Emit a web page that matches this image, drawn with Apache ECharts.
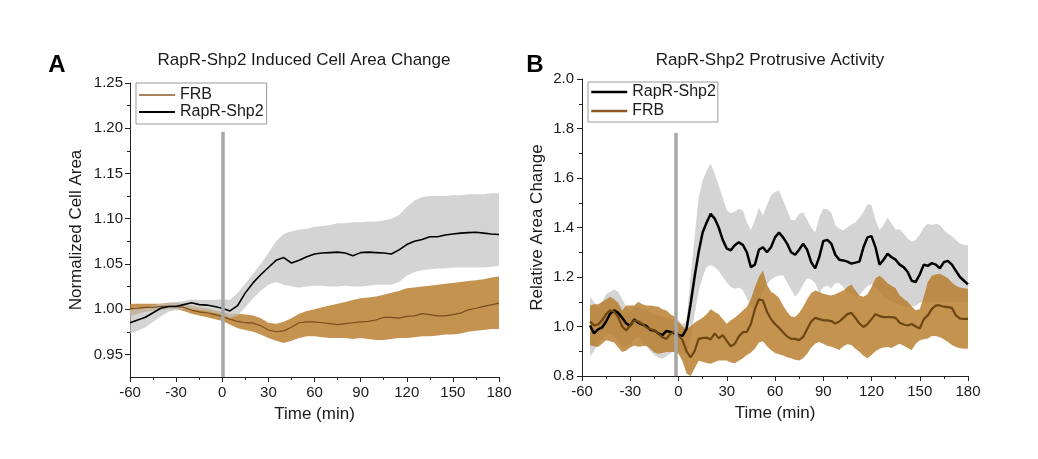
<!DOCTYPE html>
<html>
<head>
<meta charset="utf-8">
<script src="https://cdn.jsdelivr.net/npm/echarts@6/dist/echarts.min.js"></script>
<style>
  html, body { margin: 0; padding: 0; background: #fff; }
  #main { width: 1038px; height: 459px; }
</style>
</head>
<body>
<div id="main"></div>
<script>
// ---- panel A: normalized cell area ----
const timeA = [-60, -55, -50, -45, -40, -35, -30, -25, -20, -15, -10, -5,
  0, 5, 10, 15, 20, 25, 30, 35, 40, 45, 50, 55, 60, 65, 70, 75, 80, 85,
  90, 95, 100, 105, 110, 115, 120, 125, 130, 135, 140, 145, 150, 155, 160, 165, 170, 175, 180];

const rapMeanA = [0.985, 0.988, 0.991, 0.996, 1.001, 1.003,
  1.003, 1.005, 1.007, 1.005, 1.0045, 1.003,
  1.001, 0.998, 1.004, 1.018, 1.029, 1.038,
  1.046, 1.054, 1.057, 1.051, 1.054, 1.058,
  1.061, 1.062, 1.0625, 1.063, 1.062, 1.059,
  1.0625, 1.063, 1.0625, 1.062, 1.061, 1.0655,
  1.0714, 1.075, 1.077, 1.080, 1.080, 1.082,
  1.083, 1.084, 1.0846, 1.085, 1.084, 1.083,
  1.0825];
const rapHighA = [0.999, 1.000, 1.001, 1.004, 1.006, 1.007,
  1.008, 1.009, 1.011, 1.010, 1.010, 1.010,
  1.011, 1.010, 1.018, 1.028, 1.039, 1.050,
  1.062, 1.075, 1.083, 1.086, 1.088, 1.089,
  1.091, 1.092, 1.093, 1.095, 1.095, 1.096,
  1.096, 1.097, 1.097, 1.098, 1.100, 1.104,
  1.113, 1.120, 1.124, 1.125, 1.125, 1.125,
  1.126, 1.126, 1.127, 1.127, 1.127, 1.128,
  1.128];
const rapLowA = [0.973, 0.976, 0.980, 0.986, 0.992, 0.997,
  0.999, 1.000, 1.000, 0.999, 0.998, 0.996,
  0.994, 0.990, 0.993, 1.002, 1.012, 1.020,
  1.027, 1.030, 1.027, 1.025, 1.024, 1.025,
  1.026, 1.026, 1.025, 1.025, 1.026, 1.025,
  1.025, 1.026, 1.027, 1.027, 1.027, 1.030,
  1.037, 1.041, 1.043, 1.044, 1.045, 1.045,
  1.046, 1.046, 1.046, 1.046, 1.046, 1.047,
  1.048];

const frbMeanA = [1.0005, 1.001, 1.002, 1.002, 1.003, 1.003,
  1.003, 1.002, 0.999, 0.997, 0.996, 0.994,
  0.992, 0.989, 0.9864, 0.985, 0.9845, 0.9816,
  0.977, 0.975, 0.976, 0.980, 0.985, 0.986,
  0.986, 0.985, 0.984, 0.983, 0.984, 0.985,
  0.986, 0.9864, 0.988, 0.991, 0.991, 0.990,
  0.992, 0.9926, 0.995, 0.994, 0.9926, 0.9926,
  0.994, 0.9956, 0.9993, 1.001, 1.003, 1.0048,
  1.0066];
const frbHighA = [1.006, 1.006, 1.006, 1.006, 1.006, 1.007,
  1.007, 1.006, 1.004, 1.002, 1.001, 0.999,
  0.997, 0.995, 0.995, 0.994, 0.993, 0.990,
  0.985, 0.984, 0.986, 0.990, 0.995, 0.998,
  1.000, 1.002, 1.004, 1.006, 1.008, 1.010,
  1.012, 1.013, 1.014, 1.016, 1.018, 1.020,
  1.023, 1.024, 1.025, 1.026, 1.027, 1.028,
  1.029, 1.030, 1.031, 1.032, 1.033, 1.035,
  1.036];
const frbLowA = [0.992, 0.995, 0.997, 0.998, 0.999, 1.000,
  1.000, 0.998, 0.995, 0.993, 0.991, 0.989,
  0.987, 0.983, 0.979, 0.977, 0.975, 0.972,
  0.968, 0.965, 0.9625, 0.965, 0.968, 0.970,
  0.970, 0.969, 0.968, 0.968, 0.968, 0.967,
  0.968, 0.967, 0.966, 0.966, 0.967, 0.968,
  0.968, 0.969, 0.970, 0.970, 0.971, 0.972,
  0.972, 0.973, 0.975, 0.976, 0.977, 0.978,
  0.978];

// ---- panel B: protrusive activity ----
const timeB = [-55, -52.5, -50, -47.5, -45, -42.5, -40, -37.5, -35, -32.5,
  -30, -27.5, -25, -22.5, -20, -17.5, -15, -12.5, -10, -7.5,
  -5, -2.5, 0, 2.5, 5, 7.5, 10, 12.5, 15, 17.5,
  20, 22.5, 25, 27.5, 30, 32.5, 35, 37.5, 40, 42.5,
  45, 47.5, 50, 52.5, 55, 57.5, 60, 62.5, 65, 67.5,
  70, 72.5, 75, 77.5, 80, 82.5, 85, 87.5, 90, 92.5,
  95, 97.5, 100, 102.5, 105, 107.5, 110, 112.5, 115, 117.5,
  120, 122.5, 125, 127.5, 130, 132.5, 135, 137.5, 140, 142.5,
  145, 147.5, 150, 152.5, 155, 157.5, 160, 162.5, 165, 167.5,
  170, 172.5, 175, 177.5, 180];

const rapMeanB = [1.004, 0.972, 0.988, 0.996, 1.020, 1.052, 1.065, 1.055, 1.035, 1.012,
  1.004, 1.028, 1.015, 1.008, 1.002, 0.986, 0.984, 0.972, 0.965, 0.982,
  0.978, 0.972, 0.966, 0.962, 0.990, 1.090, 1.200, 1.300, 1.380, 1.420,
  1.455, 1.436, 1.400, 1.350, 1.315, 1.308, 1.328, 1.340, 1.330, 1.300,
  1.240, 1.250, 1.310, 1.320, 1.300, 1.320, 1.360, 1.380, 1.360, 1.335,
  1.300, 1.290, 1.310, 1.335, 1.310, 1.260, 1.235, 1.280, 1.345, 1.350,
  1.335, 1.290, 1.270, 1.267, 1.262, 1.254, 1.258, 1.262, 1.320, 1.360,
  1.365, 1.320, 1.250, 1.270, 1.294, 1.280, 1.270, 1.250, 1.240, 1.220,
  1.185, 1.180, 1.210, 1.250, 1.245, 1.256, 1.250, 1.235, 1.260, 1.265,
  1.250, 1.225, 1.200, 1.185, 1.170];
const rapHighB = [1.12, 1.10, 1.07, 1.10, 1.13, 1.14, 1.15, 1.14, 1.11, 1.08,
  1.06, 1.08, 1.08, 1.07, 1.07, 1.06, 1.05, 1.045, 1.04, 1.035,
  1.03, 1.025, 1.02, 1.01, 1.02, 1.20, 1.36, 1.52, 1.59, 1.63,
  1.658, 1.617, 1.57, 1.52, 1.47, 1.458, 1.465, 1.476, 1.47, 1.42,
  1.39, 1.43, 1.48, 1.45, 1.49, 1.53, 1.543, 1.55, 1.51, 1.47,
  1.43, 1.43, 1.455, 1.462, 1.43, 1.40, 1.38, 1.44, 1.476, 1.475,
  1.46, 1.41, 1.395, 1.389, 1.40, 1.412, 1.42, 1.44, 1.462, 1.495,
  1.49, 1.43, 1.39, 1.41, 1.44, 1.415, 1.392, 1.393, 1.375, 1.355,
  1.343, 1.35, 1.372, 1.40, 1.415, 1.41, 1.415, 1.41, 1.39, 1.375,
  1.365, 1.35, 1.335, 1.33, 1.328];
const rapLowB = [0.88, 0.90, 0.93, 0.95, 0.97, 0.97, 0.96, 0.94, 0.92, 0.92,
  0.93, 0.95, 0.96, 0.94, 0.92, 0.90, 0.885, 0.875, 0.87, 0.88,
  0.89, 0.90, 0.90, 0.89, 0.89, 0.945, 1.05, 1.14, 1.20, 1.24,
  1.247, 1.24, 1.225, 1.20, 1.178, 1.16, 1.153, 1.158, 1.146, 1.115,
  1.08, 1.07, 1.10, 1.14, 1.17, 1.19, 1.20, 1.205, 1.207, 1.18,
  1.15, 1.12, 1.14, 1.17, 1.195, 1.19, 1.175, 1.135, 1.16, 1.165,
  1.155, 1.175, 1.175, 1.16, 1.138, 1.133, 1.125, 1.125, 1.146, 1.164,
  1.172, 1.16, 1.14, 1.12, 1.11, 1.10, 1.095, 1.09, 1.085, 1.08,
  1.078, 1.085, 1.095, 1.10, 1.10, 1.10, 1.10, 1.10, 1.10, 1.10,
  1.10, 1.10, 1.10, 1.10, 1.10];

const frbMeanB = [1.020, 1.004, 1.008, 1.025, 1.050, 1.065, 1.060, 1.038, 1.000, 0.984,
  1.005, 1.025, 1.020, 1.010, 0.996, 0.990, 0.985, 0.970, 0.957, 0.950,
  0.970, 0.980, 0.964, 0.945, 0.900, 0.875, 0.900, 0.950, 0.953, 0.955,
  0.948, 0.972, 0.952, 0.965, 0.942, 0.920, 0.930, 0.960, 0.977, 0.978,
  1.010, 1.070, 1.110, 1.105, 1.060, 1.030, 1.010, 0.995, 0.977, 0.960,
  0.950, 0.950, 0.945, 0.958, 0.990, 1.020, 1.035, 1.030, 1.025, 1.025,
  1.022, 1.012, 1.020, 1.035, 1.050, 1.055, 1.035, 1.012, 0.998, 1.010,
  1.030, 1.050, 1.042, 1.038, 1.038, 1.038, 1.035, 1.015, 1.008, 1.004,
  1.010, 1.000, 0.992, 1.030, 1.045, 1.070, 1.085, 1.085, 1.080, 1.078,
  1.075, 1.045, 1.032, 1.031, 1.031];
const frbHighB = [1.085, 1.090, 1.090, 1.100, 1.110, 1.120, 1.110, 1.095, 1.065, 1.085,
  1.085, 1.085, 1.100, 1.090, 1.085, 1.085, 1.082, 1.080, 1.070, 1.065,
  1.050, 1.040, 1.020, 1.000, 0.990, 1.000, 1.015, 1.025, 1.035, 1.050,
  1.070, 1.060, 1.050, 1.030, 1.011, 1.025, 1.035, 1.050, 1.065, 1.080,
  1.110, 1.160, 1.200, 1.225, 1.170, 1.140, 1.130, 1.115, 1.085, 1.060,
  1.040, 1.038, 1.055, 1.080, 1.110, 1.135, 1.145, 1.140, 1.132, 1.128,
  1.125, 1.130, 1.138, 1.145, 1.160, 1.170, 1.145, 1.125, 1.120, 1.130,
  1.160, 1.195, 1.205, 1.192, 1.175, 1.165, 1.155, 1.125, 1.112, 1.100,
  1.080, 1.066, 1.070, 1.120, 1.180, 1.205, 1.210, 1.213, 1.205, 1.195,
  1.178, 1.165, 1.158, 1.155, 1.153];
const frbLowB = [0.923, 0.920, 0.917, 0.930, 0.944, 0.940, 0.935, 0.915, 0.897, 0.903,
  0.915, 0.923, 0.918, 0.920, 0.922, 0.910, 0.895, 0.890, 0.893, 0.897,
  0.897, 0.897, 0.890, 0.860, 0.810, 0.790, 0.830, 0.862, 0.858, 0.853,
  0.850, 0.857, 0.863, 0.863, 0.863, 0.855, 0.852, 0.862, 0.872, 0.885,
  0.895, 0.910, 0.935, 0.940, 0.920, 0.905, 0.893, 0.888, 0.883, 0.876,
  0.872, 0.866, 0.863, 0.872, 0.890, 0.915, 0.930, 0.937, 0.930, 0.922,
  0.918, 0.912, 0.905, 0.920, 0.928, 0.925, 0.910, 0.898, 0.882, 0.872,
  0.885, 0.900, 0.910, 0.915, 0.917, 0.913, 0.922, 0.930, 0.922, 0.913,
  0.905, 0.930, 0.944, 0.948, 0.952, 0.962, 0.962, 0.957, 0.948, 0.937,
  0.925, 0.917, 0.912, 0.910, 0.910];

// ticks
const yLabelsA = [0.95, 1.00, 1.05, 1.10, 1.15, 1.20, 1.25];
const yMinorA = [0.975, 1.025, 1.075, 1.125, 1.175, 1.225];

// stimulus (rapamycin) marker
const stimA = 0, stimTopA = 1.196;
const stimB = -1.5, stimTopB = 1.782;

const FONT = 'Liberation Sans, Arial, sans-serif';
const INK = '#1a1a1a';
const BROWN_BAND = 'rgba(180,120,35,0.8)';
const BROWN_LINE = '#6e4614';

const chart = echarts.init(document.getElementById('main'));

const pairs = (t, v) => t.map((x, i) => [x, v[i]]);

// shaded error band: one polygon through the upper edge and back along the lower edge
function band(name, t, lo, hi, color, gi) {
  return {
    name: name, type: 'custom', xAxisIndex: gi, yAxisIndex: gi === 0 ? 0 : 2,
    silent: true,
    data: t.map((x, i) => [x, lo[i], hi[i]]),
    encode: { x: 0, y: [1, 2] },
    renderItem: function (params, api) {
      if (params.dataIndexInside !== 0) return null;
      const n = params.dataInsideLength;
      const top = [], bottom = [];
      for (let i = 0; i < n; i++) {
        top.push(api.coord([api.value(0, i), api.value(2, i)]));
        bottom.push(api.coord([api.value(0, i), api.value(1, i)]));
      }
      const pts = top.concat(bottom.reverse());
      const cs = params.coordSys;
      return {
        type: 'polygon',
        shape: { points: echarts.graphic.clipPointsByRect(pts,
          { x: cs.x, y: cs.y, width: cs.width, height: cs.height }) },
        style: { fill: color, stroke: null }
      };
    }
  };
}

function meanLine(name, t, v, color, width, gi, stim) {
  const s = { name: name, type: 'line', xAxisIndex: gi, yAxisIndex: gi === 0 ? 0 : 2,
    symbol: 'none', silent: true, data: pairs(t, v),
    lineStyle: { color: color, width: width }, itemStyle: { color: color } };
  if (stim) {
    s.markLine = { silent: true, symbol: ['none', 'none'], label: { show: false },
      lineStyle: { color: '#a7a7a7', width: 3.5, type: 'solid', opacity: 1 },
      data: [[{ coord: [stim[0], stim[1]] }, { coord: [stim[0], stim[2]] }]] };
  }
  return s;
}

function xAxisCfg(gi) {
  return {
    gridIndex: gi, type: 'value', min: -60, max: 180, interval: 30,
    name: 'Time (min)', nameLocation: 'middle', nameGap: 29,
    nameTextStyle: { fontSize: 17, color: INK, fontFamily: FONT },
    axisLine: { show: true, onZero: false, lineStyle: { color: '#222', width: 1 } },
    axisTick: { show: true, length: 5, lineStyle: { color: '#222' } },
    minorTick: { show: true, splitNumber: 2, length: 3, lineStyle: { color: '#222' } },
    axisLabel: { fontSize: 15, color: INK, fontFamily: FONT, margin: 8 },
    splitLine: { show: false }
  };
}

function legendCfg(left, top, padding, gap, items) {
  return {
    orient: 'vertical', left: left, top: top, padding: padding, itemGap: gap,
    itemWidth: 36, itemHeight: 14, borderColor: '#9a9a9a', borderWidth: 1,
    textStyle: { fontSize: 16, color: INK, fontFamily: FONT },
    selectedMode: false,
    data: items.map(it => ({ name: it[0], itemStyle: { opacity: 0 },
      lineStyle: { color: it[1], width: it[2] } }))
  };
}

const option = {
  animation: false,
  textStyle: { fontFamily: FONT },
  grid: [
    { left: 130, top: 83, width: 369, height: 294, containLabel: false },
    { left: 582, top: 79, width: 386, height: 297, containLabel: false }
  ],
  xAxis: [xAxisCfg(0), xAxisCfg(1)],
  yAxis: [
    { gridIndex: 0, type: 'value', min: 0.925, max: 1.25,
      name: 'Normalized Cell Area', nameLocation: 'middle', nameGap: 45,
      nameTextStyle: { fontSize: 17, color: INK, fontFamily: FONT },
      axisLine: { show: true, onZero: false, lineStyle: { color: '#222', width: 1 } },
      axisTick: { show: true, length: 5, customValues: yLabelsA, lineStyle: { color: '#222' } },
      axisLabel: { fontSize: 15, color: INK, fontFamily: FONT, margin: 7,
        customValues: yLabelsA, formatter: v => v.toFixed(2) },
      splitLine: { show: false } },
    { gridIndex: 0, type: 'value', min: 0.925, max: 1.25, position: 'left',
      axisLine: { show: false, onZero: false },
      axisTick: { show: true, length: 3, customValues: yMinorA, lineStyle: { color: '#222' } },
      axisLabel: { show: false }, splitLine: { show: false } },
    { gridIndex: 1, type: 'value', min: 0.8, max: 2.0, interval: 0.2,
      name: 'Relative Area Change', nameLocation: 'middle', nameGap: 36,
      nameTextStyle: { fontSize: 17, color: INK, fontFamily: FONT },
      axisLine: { show: true, onZero: false, lineStyle: { color: '#222', width: 1 } },
      axisTick: { show: true, length: 5, lineStyle: { color: '#222' } },
      minorTick: { show: true, splitNumber: 2, length: 3, lineStyle: { color: '#222' } },
      axisLabel: { fontSize: 15, color: INK, fontFamily: FONT, margin: 8,
        formatter: v => v.toFixed(1) },
      splitLine: { show: false } }
  ],
  legend: [
    legendCfg(136, 83, [4, 3, 4, 2], 1,
      [['FRB', '#8a5a22', 1.3], ['RapR-Shp2', '#000', 2]]),
    legendCfg(588, 82, [2, 2, 3, 2], 3,
      [['RapR-Shp2', '#000', 2.5], ['FRB', '#8a5a22', 2.5]])
  ],
  graphic: [
    { type: 'text', x: 57, y: 65, style: { text: 'A', font: 'bold 24px ' + FONT,
      fill: '#000', align: 'center', verticalAlign: 'middle' } },
    { type: 'text', x: 535, y: 65, style: { text: 'B', font: 'bold 24px ' + FONT,
      fill: '#000', align: 'center', verticalAlign: 'middle' } },
    { type: 'text', x: 304, y: 60, style: { text: 'RapR-Shp2 Induced Cell Area Change',
      font: '17px ' + FONT, fill: INK, align: 'center', verticalAlign: 'middle' } },
    { type: 'text', x: 770, y: 60, style: { text: 'RapR-Shp2 Protrusive Activity',
      font: '17px ' + FONT, fill: INK, align: 'center', verticalAlign: 'middle' } }
  ],
  series: [
    // panel A: FRB underneath, RapR-Shp2 on top
    band('FRB SEM A', timeA, frbLowA, frbHighA, BROWN_BAND, 0),
    meanLine('FRB', timeA, frbMeanA, '#7a4e1c', 1.2, 0),
    band('RapR-Shp2 SEM A', timeA, rapLowA, rapHighA, 'rgba(195,195,195,0.72)', 0),
    meanLine('RapR-Shp2', timeA, rapMeanA, '#000', 1.6, 0, [stimA, 0.925, stimTopA]),
    // panel B: RapR-Shp2 underneath, FRB on top
    band('RapR-Shp2 SEM B', timeB, rapLowB, rapHighB, '#d4d4d4', 1),
    meanLine('RapR-Shp2', timeB, rapMeanB, '#000', 2.5, 1),
    band('FRB SEM B', timeB, frbLowB, frbHighB, BROWN_BAND, 1),
    meanLine('FRB', timeB, frbMeanB, BROWN_LINE, 2.2, 1, [stimB, 0.8, stimTopB])
  ]
};

chart.setOption(option);
</script>
</body>
</html>
